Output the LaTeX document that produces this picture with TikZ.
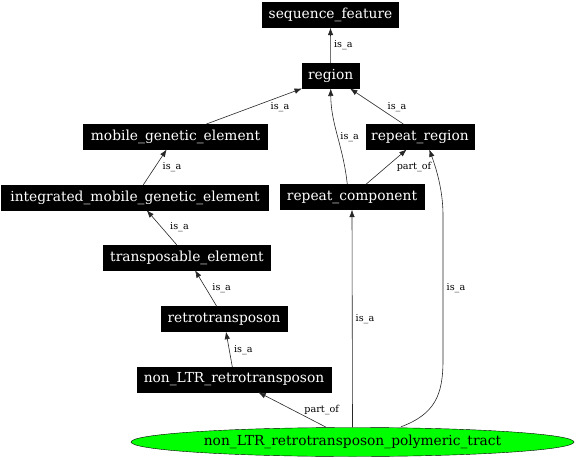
\documentclass[tikz,border=0pt]{standalone}
\usepackage{fontspec}
\setmainfont{DejaVu Serif}
\usetikzlibrary{arrows.meta,shapes.geometric}
\begin{document}
\begin{tikzpicture}[x=1pt,y=-1pt,
  term/.style={draw=black,fill=black,text=white,inner sep=0pt,minimum height=25pt,font=\fontsize{13.8}{15}\selectfont},
  focus/.style={ellipse,draw=black,fill=green,inner sep=0pt,minimum height=29pt,font=\fontsize{13.8}{15}\selectfont},
  rel/.style={draw=black!85,line width=0.6pt,-{Latex[length=7.5pt,width=5.5pt]}},
  lab/.style={font=\fontsize{9.6}{11}\selectfont,inner sep=0pt}]
\useasboundingbox (0,0) rectangle (576,460);
\node[term,minimum width=136pt] (sf) at (330.5,15) {sequence\_feature};
\node[term,minimum width=57pt] (region) at (330.7,75.8) {region};
\node[term,minimum width=108pt] (rr) at (420,136.7) {repeat\_region};
\node[term,minimum width=144pt] (rc) at (352,197) {repeat\_component};
\node[term,minimum width=184pt] (mge) at (175.5,136.7) {mobile\_genetic\_element};
\node[term,minimum width=267pt] (imge) at (135,197.5) {integrated\_mobile\_genetic\_element};
\node[term,minimum width=167pt] (te) at (187,257.5) {transposable\_element};
\node[term,minimum width=126pt] (rt) at (224,319) {retrotransposon};
\node[term,minimum width=194pt] (nltr) at (234,379.5) {non\_LTR\_retrotransposon};
\node[focus,minimum width=443pt] (ell) at (352.5,442) {non\_LTR\_retrotransposon\_polymeric\_tract};

\draw[rel] (region.north) -- (sf.south);
\draw[rel] ([xshift=31pt]mge.north) -- (region.south west);
\draw[rel] ([xshift=-16.7pt]rr.north) -- ([xshift=19.3pt]region.south);
\draw[rel] ([xshift=-4.7pt]rc.north) .. controls (343,145) and (331,125) .. (region.south);
\draw[rel] ([xshift=14pt]rc.north) -- ([xshift=-13.3pt]rr.south);
\draw[rel] ([xshift=48.5pt,yshift=0.5pt]ell.north) .. controls (435,414) and (443,395) .. (443,360) -- (443,215) .. controls (443,190) and (436,168) .. ([xshift=9.3pt]rr.south);
\draw[rel] (ell.north) -- (rc.south);
\draw[rel] ([xshift=-26.8pt,yshift=0.3pt]ell.north) -- ([xshift=24.3pt]nltr.south);
\draw[rel] ([xshift=8.3pt]imge.north) -- ([xshift=-8.8pt]mge.south);
\draw[rel] ([xshift=-10.3pt]te.north) -- ([xshift=11.7pt]imge.south);
\draw[rel] ([xshift=-7.3pt]rt.north) -- ([xshift=8pt]te.south);
\draw[rel] ([xshift=-1.7pt]nltr.north) -- ([xshift=2pt]rt.south);

\node[lab] (l1) at (343.3,45) {is\_a};
\node[lab] (l2) at (280,106.7) {is\_a};
\node[lab] (l3) at (397,106.7) {is\_a};
\node[lab] (l4) at (349.7,136.7) {is\_a};
\node[lab] (l5) at (414,167.3) {part\_of};
\node[lab] (l6) at (456,288) {is\_a};
\node[lab] (l7) at (365,319) {is\_a};
\node[lab] (l8) at (321.7,410) {part\_of};
\node[lab] (l9) at (172,167.3) {is\_a};
\node[lab] (l10) at (179.5,227.3) {is\_a};
\node[lab] (l11) at (221.7,288.3) {is\_a};
\node[lab] (l12) at (243.3,350) {is\_a};
\end{tikzpicture}
\end{document}
